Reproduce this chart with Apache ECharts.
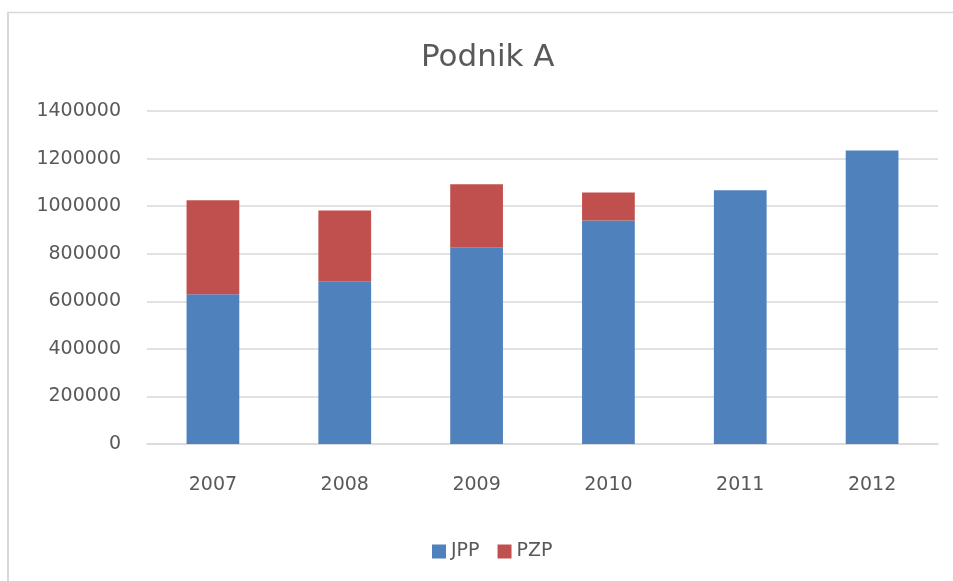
<!DOCTYPE html>
<html>
<head>
<meta charset="utf-8">
<script src="https://cdn.jsdelivr.net/npm/echarts@6/dist/echarts.min.js"></script>
<style>html,body{margin:0;padding:0;background:#fff;}#c{width:953px;height:581px;}</style>
</head>
<body>
<div id="c"></div>
<script>
var categories = ['2007', '2008', '2009', '2010', '2011', '2012'];
var jpp = [630000, 684000, 827000, 940000, 1067000, 1234000];
var pzp = [395000, 298000, 265000, 117000, 0, 0];
var yTicks = { min: 0, max: 1400000, interval: 200000 };

var chart = echarts.init(document.getElementById('c'), null, { renderer: 'canvas' });
var font = 'DejaVu Sans';
chart.setOption({
  backgroundColor: '#ffffff',
  animation: false,
  title: {
    text: 'Podnik A',
    left: 416,
    top: 37,
    textStyle: { fontFamily: font, fontSize: 31, fontWeight: 'normal', color: '#595959' }
  },
  graphic: [
    { type: 'line', shape: { x1: 8, y1: 12, x2: 8, y2: 581 }, style: { stroke: '#d9d9d9', lineWidth: 2 } },
    { type: 'line', shape: { x1: 7, y1: 12.5, x2: 953, y2: 12.5 }, style: { stroke: '#d9d9d9', lineWidth: 1.5 } }
  ],
  legend: {
    data: ['JPP', 'PZP'],
    top: 537,
    left: 427,
    icon: 'rect',
    itemWidth: 14,
    itemHeight: 14,
    itemGap: 18,
    textStyle: { fontFamily: font, fontSize: 19, color: '#595959', padding: [0, 0, 0, 0] }
  },
  grid: { left: 147, right: 15, top: 111, bottom: 137, containLabel: false },
  xAxis: {
    type: 'category',
    data: categories,
    axisLine: { lineStyle: { color: '#d9d9d9', width: 1.5 } },
    axisTick: { show: false },
    axisLabel: { fontFamily: font, fontSize: 19, color: '#595959', margin: 32 }
  },
  yAxis: {
    type: 'value',
    min: yTicks.min,
    max: yTicks.max,
    interval: yTicks.interval,
    axisLine: { show: false },
    axisTick: { show: false },
    splitLine: { lineStyle: { color: '#d9d9d9', width: 1.5 } },
    axisLabel: { fontFamily: font, fontSize: 19, color: '#595959', margin: 26, formatter: function (v) { return String(v); } }
  },
  series: [
    { name: 'JPP', type: 'bar', stack: 's', data: jpp, barWidth: '40%', itemStyle: { color: '#4F81BD' } },
    { name: 'PZP', type: 'bar', stack: 's', data: pzp, barWidth: '40%', itemStyle: { color: '#C0504D' } }
  ]
});
</script>
</body>
</html>
